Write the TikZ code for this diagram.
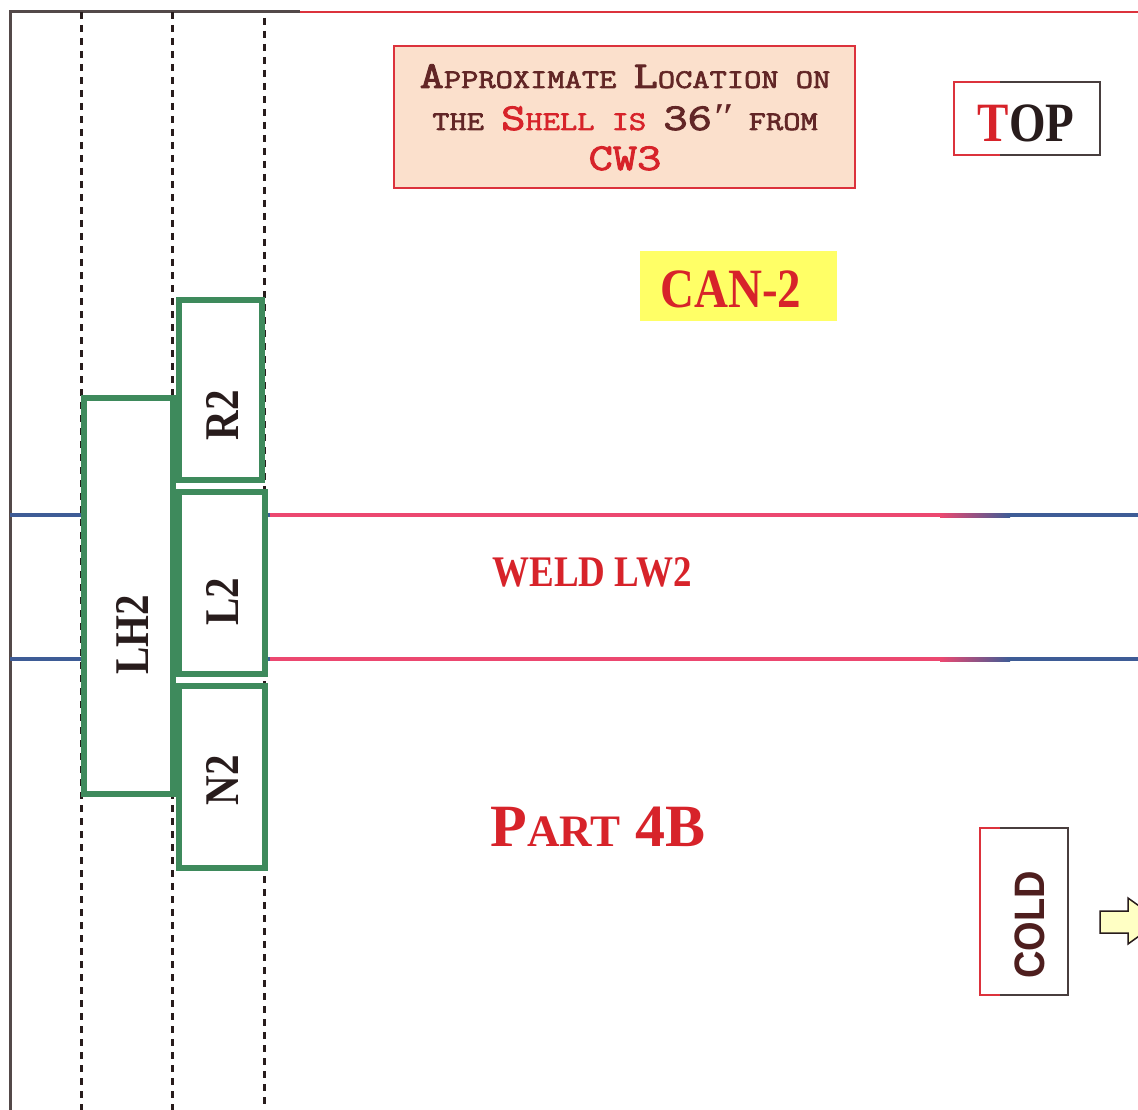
\documentclass[tikz,border=0pt]{standalone}
\usepackage{fontspec}
\setmainfont{Liberation Serif}
\newfontfamily\sansf{Liberation Sans}
\newfontfamily\serifq{Liberation Serif}
\newfontfamily\notef{Latin Modern Mono}[FakeBold=2.2]
\definecolor{boxgreen}{RGB}{62,138,92}
\definecolor{weldblue}{RGB}{62,92,150}
\definecolor{weldpink}{RGB}{236,72,112}
\definecolor{peach}{RGB}{251,224,204}
\definecolor{txtred}{RGB}{215,35,42}
\definecolor{darkbrown}{RGB}{98,38,38}
\definecolor{inkdark}{RGB}{40,28,28}
\definecolor{canyellow}{RGB}{255,255,102}
\definecolor{borderred}{RGB}{220,50,60}
\definecolor{arrowyellow}{RGB}{255,255,196}
\newcommand{\bigsc}[1]{{\fontsize{38}{38}\selectfont #1}}
\newcommand{\smsc}[1]{{\fontsize{27}{27}\selectfont #1}}
\newcommand{\wide}[1]{\scalebox{1.24}[1]{#1}}
\newcommand{\tall}[1]{\scalebox{1}[1.18]{#1}}
\tikzset{
  gbox/.style={draw=boxgreen, line width=6pt, fill=white, inner sep=0pt},
  vlabel/.style={rotate=90, text=inkdark, font=\bfseries\fontsize{41}{41}\selectfont, inner sep=0pt},
  guide/.style={draw=inkdark, line width=3pt, dash pattern=on 7pt off 6pt},
  weld/.style={draw=weldblue, line width=4pt},
  redlabel/.style={text=txtred, inner sep=0pt, anchor=base},
  noteline/.style={anchor=base, inner sep=0pt, font=\notef},
}
\begin{document}
\begin{tikzpicture}[x=1pt,y=-1pt]
\useasboundingbox (0,0) rectangle (1138,1110);
\clip (0,0) rectangle (1138,1110);
\fill[white] (0,0) rectangle (1138,1110);
% frame
\draw[inkdark!80, line width=3pt] (10,1112) -- (10,12) -- (300,12);
\draw[borderred, line width=2pt] (300,12) -- (1140,12);
% guides
\coordinate (g1t) at (81,12);  \coordinate (g1b) at (81,1112);
\coordinate (g2t) at (172,12); \coordinate (g2b) at (172,1112);
\coordinate (g3t) at (264,18); \coordinate (g3b) at (264,1112);
\draw[guide] (g1t) -- (g1b);
\draw[guide] (g2t) -- (g2b);
\draw[guide] (g3t) -- (g3b);
% weld lines
\coordinate (w1a) at (10,515);  \coordinate (w1b) at (1140,515);
\coordinate (w2a) at (10,659);  \coordinate (w2b) at (1140,659);
\draw[weld] (w1a) -- (w1b);
\draw[weld] (w2a) -- (w2b);
\fill[weldpink] (270,513) rectangle (940,517);
\fill[left color=weldpink, right color=weldblue] (940,513) rectangle (1010,517);
\fill[weldpink] (270,657) rectangle (940,661);
\fill[left color=weldpink, right color=weldblue] (940,657) rectangle (1010,661);
% green boxes
\node[gbox, minimum width=89pt, minimum height=396pt] (lh2) at (128.5,596) {};
\node[gbox, minimum width=83pt, minimum height=180pt] (r2) at (220.5,390) {};
\node[gbox, minimum width=86pt, minimum height=182pt] (l2) at (222,583) {};
\node[gbox, minimum width=86pt, minimum height=182pt] (n2) at (222,777) {};
\node[vlabel] (lh2t) at (132,635) {\tall{LH2}};
\node[vlabel] (r2t) at (222,415) {\tall{R2}};
\node[vlabel] (l2t) at (222,602) {\tall{L2}};
\node[vlabel] (n2t) at (222,780) {\tall{N2}};
% note box
\node[draw=borderred, line width=2pt, fill=peach, minimum width=461pt, minimum height=142pt, inner sep=0pt] (note) at (624.5,117) {};
\node[noteline, text=darkbrown] (n1) at (625,88)
  {\wide{\bigsc{A}\smsc{PPROXIMATE }\bigsc{L}\smsc{OCATION ON}}};
\node[noteline, text=darkbrown] (n2line) at (625,130)
  {\wide{\smsc{THE }\textcolor{txtred}{\bigsc{S}\smsc{HELL IS }}\bigsc{36{\serifq\itshape ″}}\smsc{ FROM}}};
\node[noteline, text=txtred] (n3) at (625,170)
  {\wide{\bigsc{CW3}}};
% TOP
\node[draw=inkdark!85, line width=2pt, fill=white, minimum width=146pt, minimum height=73pt, inner sep=0pt] (top) at (1027,118.5) {};
\draw[borderred, line width=2pt] (1000,82) -- (954,82) -- (954,155) -- (1000,155);
\node[anchor=base, inner sep=0pt, font=\bfseries\fontsize{47}{47}\selectfont] (topt) at (1026,142)
  {\tall{\textcolor{txtred}{T}\textcolor{inkdark}{OP}}};
% CAN-2
\node[fill=canyellow, minimum width=197pt, minimum height=70pt, inner sep=0pt] (can) at (738.5,286) {};
\node[redlabel, font=\bfseries\fontsize{47}{47}\selectfont] (cant) at (731,307) {\tall{CAN-2}};
% WELD LW2
\node[redlabel, font=\bfseries\fontsize{37}{37}\selectfont] (weldt) at (592,586) {\tall{WELD LW2}};
% PART 4B
\node[redlabel, font=\bfseries] (part) at (598,846)
  {{\fontsize{60}{60}\selectfont P}{\fontsize{45}{45}\selectfont ART}{\fontsize{60}{60}\selectfont\ 4B}};
% COLD
\node[draw=inkdark!85, line width=2pt, fill=white, minimum width=88pt, minimum height=167pt, inner sep=0pt] (cold) at (1024,911.5) {};
\draw[borderred, line width=2pt] (1000,828) -- (980,828) -- (980,995) -- (1000,995);
\node[rotate=90, inner sep=0pt, text=darkbrown!80!black, font=\sansf\bfseries\fontsize{38}{38}\selectfont] (coldt) at (1030,925) {\scalebox{1}[1.12]{COLD}};
% arrow
\draw[inkdark, line width=1.5pt, fill=arrowyellow] (1100,911) -- (1128,911) -- (1128,898) -- (1160,921) -- (1128,944) -- (1128,933) -- (1100,933) -- cycle;
\end{tikzpicture}
\end{document}
